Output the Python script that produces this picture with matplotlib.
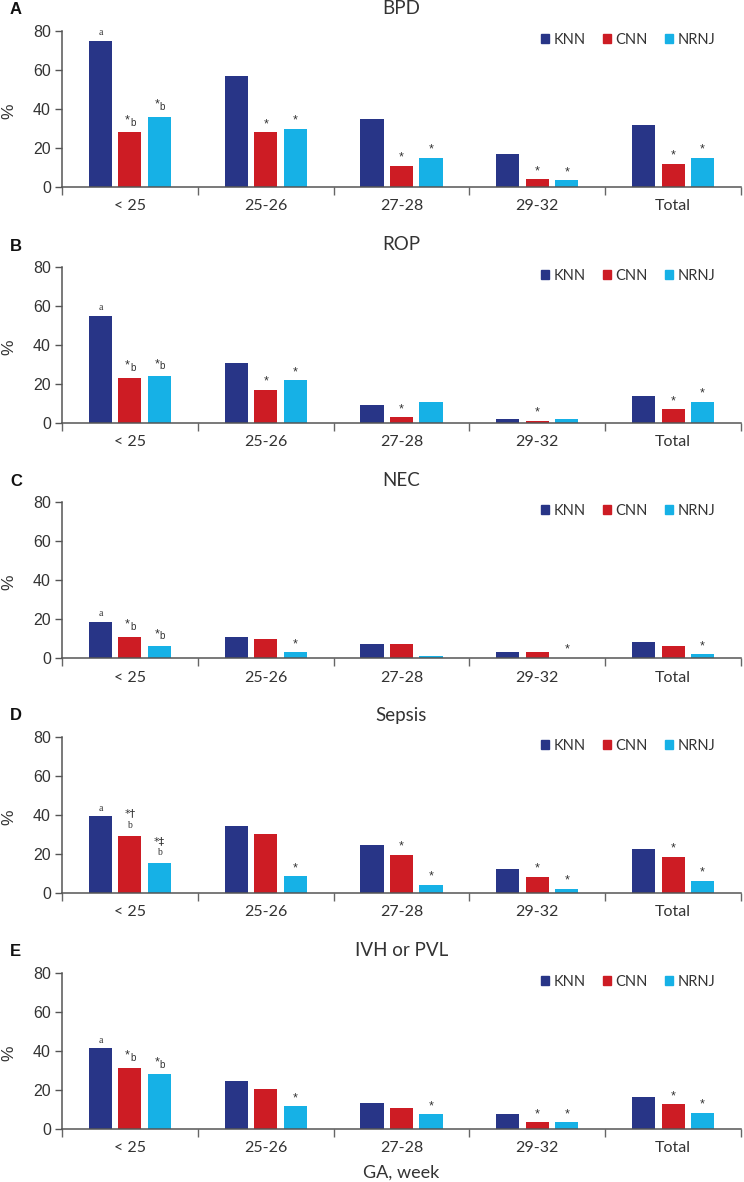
import numpy as np
import matplotlib.pyplot as plt
from matplotlib.patches import Patch

groups = ["< 25", "25-26", "27-28", "29-32", "Total"]
series = ["KNN", "CNN", "NRNJ"]
colors = ["#283587", "#cd1c24", "#16b1e6"]
titles = ["BPD", "ROP", "NEC", "Sepsis", "IVH or PVL"]
letters = ["A", "B", "C", "D", "E"]

# rows: KNN, CNN, NRNJ ; columns: groups
bpd = [[75, 57, 35, 17, 32], [28, 28, 11, 4, 12], [36, 30, 15, 3.5, 15]]
rop = [[55, 31, 9, 2, 14], [23, 17, 3, 1.2, 7], [24, 22, 11, 2, 11]]
nec = [[18.5, 11, 7.3, 3.1, 8.3], [11, 10, 7, 3.2, 6.2], [6, 3, 1, 0, 2]]
sepsis = [[39.5, 34.5, 24.5, 12.3, 22.4], [29.3, 30.3, 19.5, 8.4, 18.5], [15.4, 8.7, 4.3, 2.2, 6.3]]
ivh = [[41.5, 24.7, 13.5, 7.6, 16.6], [31.5, 20.5, 10.6, 3.5, 12.7], [28, 11.6, 7.5, 3.5, 8.4]]

marks_bpd = [["a", "", "", "", ""], ["*b", "*", "*", "*", "*"], ["*b", "*", "*", "*", "*"]]
marks_rop = [["a", "", "", "", ""], ["*b", "*", "*", "*", "*"], ["*b", "*", "", "", "*"]]
marks_nec = [["a", "", "", "", ""], ["*b", "", "", "", ""], ["*b", "*", "", "*", "*"]]
marks_sepsis = [["a", "", "", "", ""], ["*\u2020b", "", "*", "*", "*"], ["*\u2021b", "*", "*", "*", "*"]]
marks_ivh = [["a", "", "", "", ""], ["*b", "", "", "*", "*"], ["*b", "*", "*", "*", "*"]]

panels = [bpd, rop, nec, sepsis, ivh]
marks = [marks_bpd, marks_rop, marks_nec, marks_sepsis, marks_ivh]

W, H = 744, 1182
fig = plt.figure(figsize=(W / 100, H / 100), dpi=100)

sans = ["Lato", "DejaVu Sans"]
arial = ["Liberation Sans", "DejaVu Sans"]
tc = "#333333"

x = np.arange(len(groups))
offs = [-0.217, 0, 0.217]
bw = 0.17
tops = [31, 267, 502, 737, 973]
left, right = 62, 741

for k in range(5):
    T = tops[k]
    ax = fig.add_axes([left / W, 1 - (T + 156) / H, (right - left) / W, 156 / H])
    for j in range(3):
        ax.bar(x + offs[j], panels[k][j], bw, color=colors[j], label=series[j])
        for i, m in enumerate(marks[k][j]):
            xc = x[i] + offs[j]
            y = panels[k][j][i]
            if m == "a":
                ax.annotate("a", (xc, y), xytext=(0, 2.5), textcoords="offset points",
                            ha="center", va="bottom", fontsize=7, family="Liberation Serif", color=tc)
            elif m == "*":
                ax.annotate("*", (xc, y), xytext=(0, 1.5), textcoords="offset points",
                            ha="center", va="bottom", fontsize=9, family=arial, color=tc)
            elif m == "*b":
                ax.annotate("*", (xc, y), xytext=(-1.8, 4.5), textcoords="offset points",
                            ha="center", va="bottom", fontsize=9, family=arial, color=tc)
                ax.annotate("b", (xc, y), xytext=(2.3, 3.5), textcoords="offset points",
                            ha="center", va="bottom", fontsize=7, family=arial, color=tc)
            elif m.startswith("*") and m.endswith("b"):
                ax.annotate(m[:2], (xc, y), xytext=(0, 16), textcoords="offset points",
                            ha="center", va="center", fontsize=8, family=["DejaVu Sans"], color=tc)
                ax.annotate("b", (xc, y), xytext=(0, 7.5), textcoords="offset points",
                            ha="center", va="center", fontsize=7, family="Liberation Serif", color=tc)

    ax.set_xlim(-0.5, 4.5)
    ax.set_ylim(0, 80)
    ax.set_yticks([0, 20, 40, 60, 80])
    ax.set_yticklabels(["0", "20", "40", "60", "80"], family=arial, fontsize=11.5, color=tc)
    ax.set_xticks(np.arange(-0.5, 5, 1))
    ax.set_xticklabels([])
    ax.set_xticks(x, minor=True)
    ax.set_xticklabels(groups, minor=True, family=sans, fontsize=11.5, color=tc)
    ax.tick_params(axis="x", which="minor", length=0, pad=9)
    ax.tick_params(axis="x", which="major", length=6, width=1, color="#666666", direction="out")
    ax.tick_params(axis="y", length=5, width=1, color="#555555", pad=3)
    for s in ["top", "right"]:
        ax.spines[s].set_visible(False)
    for s in ["left", "bottom"]:
        ax.spines[s].set_color("#555555")
        ax.spines[s].set_linewidth(1.1)

    handles = [Patch(color=c, label=s) for c, s in zip(colors, series)]
    ax.legend(handles=handles, loc="upper right", bbox_to_anchor=(0.962, 0.99), ncol=3,
              frameon=False, borderaxespad=0, borderpad=0, handlelength=0.55, handleheight=0.55,
              handletextpad=0.3, columnspacing=1.2, prop={"family": sans, "size": 10.5},
              labelcolor=tc)

    fig.text((left + right) / 2 / W, 1 - (T - 22) / H, titles[k], ha="center", va="center",
             fontsize=13.5, family=sans, color=tc)
    fig.text(10 / W, 1 - (T - 21) / H, letters[k], ha="left", va="center",
             fontsize=12, family=arial, weight="bold", color="#111111")
    fig.text(9 / W, 1 - (T + 80) / H, "%", rotation=90, ha="center", va="center",
             fontsize=12.5, family=arial, color=tc)

fig.text((left + right) / 2 / W, 1 - 1173 / H, "GA, week", ha="center", va="center",
         fontsize=13, family=sans, color=tc)

fig.savefig("out.png", dpi=100)
